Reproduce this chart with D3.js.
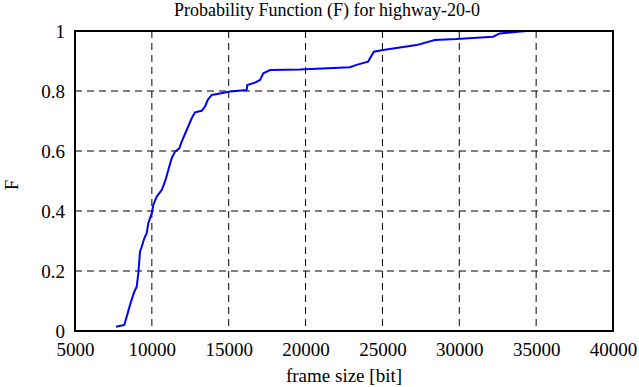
<!DOCTYPE html>
<html><head><meta charset="utf-8">
<script src="https://cdn.jsdelivr.net/npm/d3@7"></script>
<style>body{margin:0;background:#fff}svg{display:block}</style>
</head><body><svg id="c" width="639" height="387"></svg>
<script>
const frameSize = [7667,8207,8364,8578,8858,9014,9118,9229,9340,9509,9665,9769,9990,10094,10315,10641,10810,10920,11135,11291,11506,11786,11942,12267,12593,12807,13243,13458,13633,13894,14434,15084,16171,16210,16711,17037,17251,17687,19639,22880,23313,24068,24440,25046,27214,28405,29810,32207,32631,34366];
const probF =     [0.014,0.020,0.048,0.087,0.131,0.148,0.192,0.264,0.281,0.309,0.326,0.359,0.392,0.42,0.448,0.47,0.492,0.509,0.548,0.576,0.598,0.609,0.631,0.670,0.709,0.729,0.734,0.748,0.770,0.787,0.792,0.798,0.803,0.82,0.828,0.837,0.859,0.87,0.872,0.879,0.887,0.898,0.931,0.937,0.953,0.97,0.973,0.981,0.992,1.0];
const xTicks = [5000,10000,15000,20000,25000,30000,35000,40000];
const yTicks = [0,0.2,0.4,0.6,0.8,1];
const title = "Probability Function (F) for highway-20-0";
const xLabel = "frame size [bit]";
const yLabel = "F";

const FONT = "'Liberation Serif','Times New Roman','DejaVu Serif',serif";
const svg = d3.select("#c");
const L=75,R=613,T=31,B=331;
const x = d3.scaleLinear().domain([5000,40000]).range([L,R]);
const y = d3.scaleLinear().domain([0,1]).range([B,T]);

const g = svg.append("g");
g.selectAll(".vg").data(xTicks.slice(1,-1)).enter().append("line")
 .attr("x1",d=>x(d)).attr("x2",d=>x(d)).attr("y1",T).attr("y2",B)
 .attr("stroke","#000").attr("stroke-width",1).attr("stroke-dasharray","7,5");
g.selectAll(".hg").data(yTicks.slice(1,-1)).enter().append("line")
 .attr("x1",L).attr("x2",R).attr("y1",d=>y(d)).attr("y2",d=>y(d))
 .attr("stroke","#000").attr("stroke-width",1).attr("stroke-dasharray","7,5");

const xa = svg.append("g").attr("transform",`translate(0,${B})`)
 .call(d3.axisBottom(x).tickValues(xTicks).tickFormat(d3.format("d")).tickSize(0).tickPadding(16));
const ya = svg.append("g").attr("transform",`translate(${L},0)`)
 .call(d3.axisLeft(y).tickValues(yTicks).tickFormat(d=>d===0||d===1?String(d):d3.format(".1f")(d)).tickSize(0).tickPadding(10));
[xa,ya].forEach(a=>{a.attr("font-family",FONT).attr("font-size",19);a.select(".domain").remove();a.selectAll("text").attr("fill","#000");});
xa.selectAll("text").attr("dy","0.45em");
ya.selectAll("text").attr("dy","0.36em");

svg.append("path").datum(frameSize.map((v,i)=>[v,probF[i]]))
 .attr("d",d3.line().x(d=>x(d[0])).y(d=>y(d[1])))
 .attr("fill","none").attr("stroke","#0000ff").attr("stroke-width",2);

svg.append("rect").attr("x",L).attr("y",T).attr("width",R-L).attr("height",B-T)
 .attr("fill","none").attr("stroke","#000").attr("stroke-width",2);

const tx = svg.append("g").attr("font-family",FONT).attr("fill","#000");
tx.append("text").attr("x",327).attr("y",16).attr("text-anchor","middle").attr("font-size",18).text(title);
tx.append("text").attr("x",344).attr("y",382).attr("text-anchor","middle").attr("font-size",19).text(xLabel);
tx.append("text").attr("transform","translate(18,185) rotate(-90)").attr("text-anchor","middle").attr("font-size",19).text(yLabel);
</script></body></html>
